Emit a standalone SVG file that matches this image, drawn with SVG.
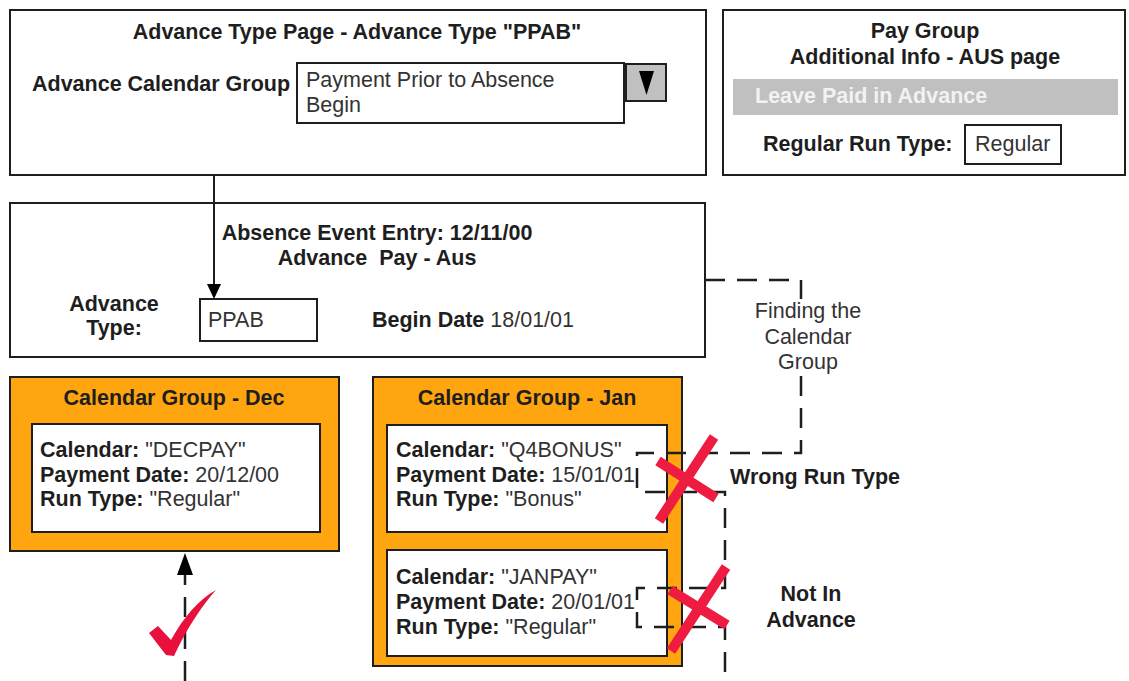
<svg xmlns="http://www.w3.org/2000/svg" width="1129" height="681" viewBox="0 0 1129 681">
<style>
text{font-family:"Liberation Sans",Arial,sans-serif;font-size:21.5px;fill:#1e1e1e}
.b{font-weight:bold}
.r{font-weight:normal;fill:#333}
.c{text-anchor:middle}
.box{fill:#fff;stroke:#1e1e1e;stroke-width:2}
.org{fill:#FFA50F;stroke:#1e1e1e;stroke-width:2}
.dash{fill:none;stroke:#1e1e1e;stroke-width:2.5;stroke-dasharray:20 12}
.solid{fill:none;stroke:#1e1e1e;stroke-width:2}
.x{stroke:#ee1c40;stroke-width:10;stroke-linecap:butt}
</style>
<rect width="1129" height="681" fill="#fff"/>

<g id="advance-type-page">
<rect class="box" x="10" y="10" width="696" height="165"/>
<text class="b c" x="357" y="39">Advance Type Page - Advance Type "PPAB"</text>
<text class="b" x="32" y="91">Advance Calendar Group</text>
<rect class="box" x="297" y="63" width="327" height="60"/>
<text class="r" x="306" y="87">Payment Prior to Absence</text>
<text class="r" x="306" y="112">Begin</text>
<rect x="626" y="64" width="40" height="37" fill="#c0c0c0" stroke="#1e1e1e" stroke-width="2"/>
<polygon points="639,71 654,71 646.5,95" fill="#000"/>
</g>

<g id="pay-group">
<rect class="box" x="723" y="10" width="402" height="165"/>
<text class="b c" x="925" y="38">Pay Group</text>
<text class="b c" x="925" y="64">Additional Info - AUS page</text>
<rect x="733" y="79" width="385" height="36" fill="#c0c0c0"/>
<text class="b" x="755" y="103" style="fill:#f2f2f2">Leave Paid in Advance</text>
<text class="b" x="763" y="151">Regular Run Type:</text>
<rect class="box" x="965" y="125" width="96" height="39"/>
<text class="r" x="975" y="151">Regular</text>
</g>

<g id="absence-event">
<rect class="box" x="10" y="203" width="695" height="154"/>
<text class="b c" x="377" y="240">Absence Event Entry: 12/11/00</text>
<text class="b c" x="377" y="265" xml:space="preserve">Advance  Pay - Aus</text>
<text class="b c" x="114" y="311">Advance</text>
<text class="b c" x="114" y="335">Type:</text>
<rect class="box" x="200" y="299" width="117" height="42"/>
<text class="r" x="208" y="327">PPAB</text>
<text class="b" x="372" y="327">Begin Date <tspan class="r">18/01/01</tspan></text>
</g>

<g id="calendar-group-dec">
<rect class="org" x="10" y="377" width="329" height="174"/>
<text class="b c" x="174" y="405">Calendar Group - Dec</text>
<rect class="box" x="32" y="424" width="288" height="108"/>
<text class="b" x="40" y="457">Calendar: <tspan class="r">"DECPAY"</tspan></text>
<text class="b" x="40" y="482">Payment Date: <tspan class="r">20/12/00</tspan></text>
<text class="b" x="40" y="506">Run Type: <tspan class="r">"Regular"</tspan></text>
</g>

<g id="calendar-group-jan">
<rect class="org" x="373" y="377" width="309" height="289"/>
<text class="b c" x="527" y="405">Calendar Group - Jan</text>
<rect class="box" x="387" y="425" width="280" height="107"/>
<text class="b" x="396" y="457">Calendar: <tspan class="r">"Q4BONUS"</tspan></text>
<text class="b" x="396" y="482">Payment Date: <tspan class="r">15/01/01</tspan></text>
<text class="b" x="396" y="506">Run Type: <tspan class="r">"Bonus"</tspan></text>
<rect class="box" x="387" y="550" width="280" height="106"/>
<text class="b" x="396" y="584">Calendar: <tspan class="r">"JANPAY"</tspan></text>
<text class="b" x="396" y="609">Payment Date: <tspan class="r">20/01/01</tspan></text>
<text class="b" x="396" y="634">Run Type: <tspan class="r">"Regular"</tspan></text>
</g>

<g id="connectors">
<line class="solid" x1="214" y1="175" x2="214" y2="284"/>
<polygon points="207,284 221,284 214,299" fill="#000"/>
<path class="dash" d="M705,280 H801 V453 H637 V492 H725 V588 H637 V627 H725 V681"/>
<line class="dash" x1="185" y1="681" x2="185" y2="575"/>
<polygon points="177,575 193,575 185,553" fill="#000"/>
</g>

<g id="finding-label">
<rect x="752" y="299" width="112" height="77" fill="#fff"/>
<text class="r c" x="808" y="318">Finding the</text>
<text class="r c" x="808" y="344">Calendar</text>
<text class="r c" x="808" y="369">Group</text>
</g>

<g id="marks">
<path d="M149,633 L158,626 L171,640 C183,618 198,600 216,590 C201,607 187,628 174,656 L166,655 Z" fill="#e8103c"/>
<line class="x" x1="658" y1="461" x2="716" y2="498"/>
<line class="x" x1="714" y1="437" x2="659" y2="521"/>
<line class="x" x1="670" y1="590" x2="727" y2="625"/>
<line class="x" x1="726" y1="567" x2="671" y2="651"/>
</g>

<g id="annotations">
<text class="b" x="730" y="484">Wrong Run Type</text>
<text class="b c" x="811" y="601">Not In</text>
<text class="b c" x="811" y="627">Advance</text>
</g>
</svg>
